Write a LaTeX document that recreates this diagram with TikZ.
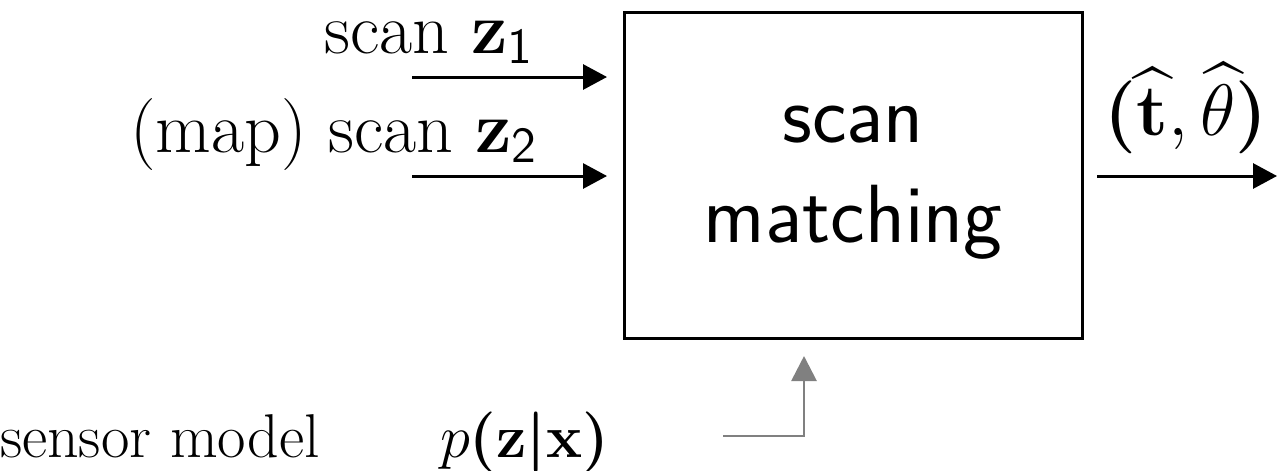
\documentclass[tikz,border=0pt]{standalone}
\usepackage{amsmath,bm}
\usetikzlibrary{arrows.meta}
\begin{document}
\begin{tikzpicture}[
  every node/.style={inner sep=0pt,outer sep=0pt},
  toplbl/.style={font=\fontsize{20.5}{24}\selectfont},
  botlbl/.style={font=\fontsize{17.6}{21}\selectfont},
  outlbl/.style={font=\fontsize{22}{26}\selectfont},
  boxtxt/.style={font=\sffamily\fontsize{23.5}{28}\selectfont},
  arr/.style={line width=0.3mm,-{Triangle[length=2.4mm,width=2.5mm]}},
  garr/.style={line width=0.28mm,draw={rgb,255:red,128;green,128;blue,128},-{Triangle[length=2.5mm,width=2.5mm]}},
  boxst/.style={draw,line width=0.3mm,minimum width=4.58cm,minimum height=3.26cm}
]
\useasboundingbox (0,0) rectangle (12.77,4.70);
\node[boxst] (box) at (8.53,2.95) {};
\node[boxtxt,anchor=base] (t1) at (8.53,3.28) {scan};
\node[boxtxt,anchor=base] (t2) at (8.53,2.28) {matching};
\coordinate (a1s) at (4.12,3.93);
\coordinate (a1e) at (6.07,3.93);
\coordinate (a2s) at (4.12,2.94);
\coordinate (a2e) at (6.07,2.94);
\coordinate (os) at (10.97,2.94);
\coordinate (oe) at (12.77,2.94);
\draw[arr] (a1s) -- (a1e);
\draw[arr] (a2s) -- (a2e);
\draw[arr] (os) -- (oe);
\node[toplbl,anchor=base east] (z1) at (5.34,4.17) {scan $\mathbf{z}_{\textsf{1}}$};
\node[toplbl,anchor=base east] (z2) at (5.38,3.18) {(map) scan $\mathbf{z}_{\textsf{2}}$};
\node[outlbl,anchor=base] (out) at (11.86,3.35) {$\bm{(}\widehat{\mathbf{t}},\widehat{\theta}\bm{)}$};
\node[botlbl,anchor=base west] (sm) at (0.0,0.13) {sensor model};
\node[botlbl,anchor=base west] (pz) at (4.40,0.13) {$p\bm{(}\mathbf{z}\bm{|}\mathbf{x}\bm{)}$};
\coordinate (gs) at (7.23,0.34);
\coordinate (gc) at (8.04,0.34);
\coordinate (ge) at (8.04,1.14);
\draw[garr] (gs) -- (gc) -- (ge);
\end{tikzpicture}
\end{document}
